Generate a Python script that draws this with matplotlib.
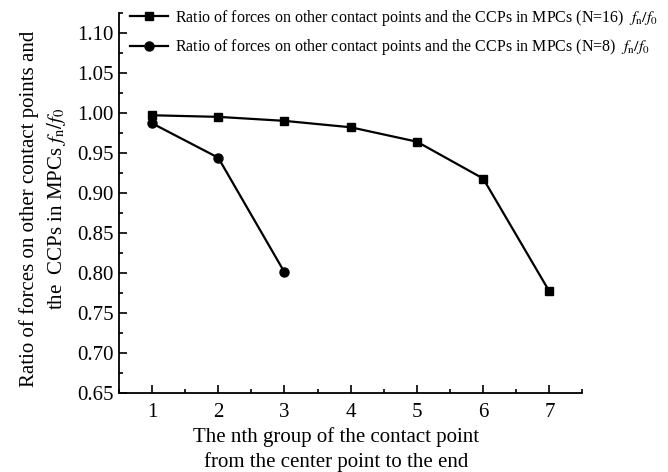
import matplotlib
matplotlib.use('Agg')
import matplotlib.pyplot as plt
from matplotlib.ticker import MultipleLocator, FormatStrFormatter

plt.rcParams['font.family'] = ['Liberation Serif', 'DejaVu Serif']
plt.rcParams['mathtext.fontset'] = 'stix'

groups_16 = [1, 2, 3, 4, 5, 6, 7]
ratio_16 = [0.997, 0.995, 0.990, 0.982, 0.964, 0.918, 0.777]
groups_8 = [1, 2, 3]
ratio_8 = [0.987, 0.944, 0.801]

label_16 = r'Ratio of forces on other contact points and the CCPs in MPCs (N=16)  $f_{\rm n}/f_0$'
label_8 = r'Ratio of forces on other contact points and the CCPs in MPCs (N=8)  $f_{\rm n}/f_0$'

fig = plt.figure(figsize=(6.68, 4.72), dpi=100)
ax = fig.add_axes([0.178, 0.167, 0.694, 0.806])

ax.plot(groups_16, ratio_16, color='k', linewidth=1.6, marker='s', markersize=6, label=label_16)
ax.plot(groups_8, ratio_8, color='k', linewidth=1.6, marker='o', markersize=6.5, label=label_8)

ax.set_xlim(0.5, 7.5)
ax.set_ylim(0.65, 1.125)
ax.xaxis.set_major_locator(MultipleLocator(1))
ax.xaxis.set_minor_locator(MultipleLocator(0.5))
ax.yaxis.set_major_locator(MultipleLocator(0.05))
ax.yaxis.set_minor_locator(MultipleLocator(0.025))
ax.yaxis.set_major_formatter(FormatStrFormatter('%.2f'))
ax.tick_params(which='both', direction='in', labelsize=15, width=1.2)
ax.tick_params(which='major', length=6)
ax.tick_params(which='minor', length=3)
ax.tick_params(axis='x', pad=7)
for s in ['top', 'right']:
    ax.spines[s].set_visible(False)
for s in ['left', 'bottom']:
    ax.spines[s].set_linewidth(1.3)

ax.set_xlabel('The nth group of the contact point\nfrom the center point to the end',
              fontsize=15, labelpad=4, linespacing=1.3)
ax.xaxis.label.set_x(0.468)
ax.set_ylabel('Ratio of forces on other contact points and\nthe  CCPs in MPCs $f_{\\rm n}/f_0$',
              fontsize=15, labelpad=7, linespacing=1.35)
ax.yaxis.label.set_y(0.485)

ax.legend(loc='upper left', bbox_to_anchor=(0.01, 1.03), frameon=False, fontsize=11.5,
          handlelength=2.4, handletextpad=0.4, labelspacing=0.6, borderaxespad=0)

fig.savefig('out.png', dpi=100)
